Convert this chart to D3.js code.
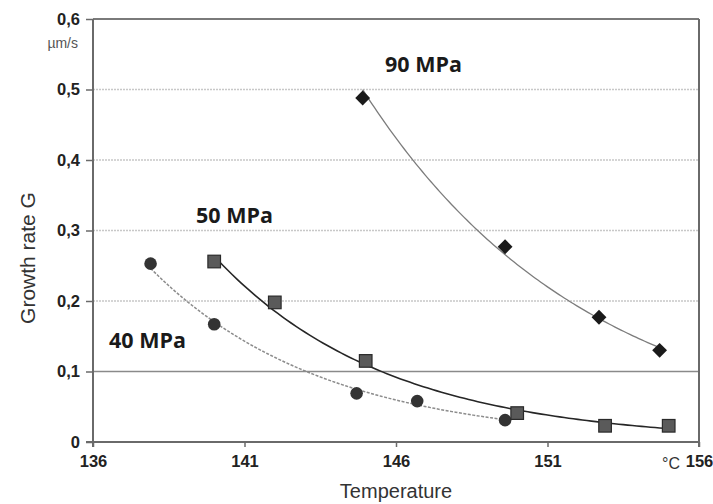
<!DOCTYPE html>
<html>
<head>
<meta charset="utf-8">
<script src="https://cdn.jsdelivr.net/npm/d3@7"></script>
<style>
  html, body { margin: 0; padding: 0; background: #fff; }
  svg { display: block; }
</style>
</head>
<body>
<svg id="chart" width="713" height="504"></svg>
<script>
// Growth rate G (µm/s) versus temperature (°C) for three pressures
const temp40 = [137.9, 140, 144.7, 146.7, 149.6];
const g40    = [0.253, 0.167, 0.069, 0.058, 0.031];

const temp50 = [140, 142, 145, 150, 152.9, 155];
const g50    = [0.256, 0.198, 0.115, 0.041, 0.023, 0.023];

const temp90 = [144.9, 149.6, 152.7, 154.7];
const g90    = [0.488, 0.277, 0.177, 0.130];

const xTicks = [136, 141, 146, 151, 156];
const yTicks = [0, 0.1, 0.2, 0.3, 0.4, 0.5, 0.6];

const svg = d3.select("#chart");
const plotL = 93, plotR = 699, plotT = 19, plotB = 442;

const x = d3.scaleLinear().domain([136, 156]).range([plotL, plotR]);
const y = d3.scaleLinear().domain([0, 0.6]).range([plotB, plotT]);
const comma = v => d3.format(".1f")(v).replace(".", ",");
const yLabel = v => v === 0 ? "0" : comma(v);
const sans = "'Liberation Sans', Arial, sans-serif";

// horizontal gridlines
svg.append("g").selectAll("line")
  .data(yTicks.filter(v => v > 0.1 && v < 0.6))
  .join("line")
  .attr("x1", plotL).attr("x2", plotR)
  .attr("y1", d => y(d)).attr("y2", d => y(d))
  .attr("stroke", "#c8c8c8").attr("stroke-width", 1.5)
  .attr("stroke-dasharray", "2,1");

svg.append("line")
  .attr("x1", plotL).attr("x2", plotR)
  .attr("y1", y(0.1)).attr("y2", y(0.1))
  .attr("stroke", "#8a8a8a").attr("stroke-width", 1.5);

svg.append("line")
  .attr("x1", plotL).attr("x2", plotR)
  .attr("y1", y(0.6)).attr("y2", y(0.6))
  .attr("stroke", "#7a7a7a").attr("stroke-width", 2);

// right frame
svg.append("line")
  .attr("x1", plotR).attr("x2", plotR)
  .attr("y1", plotT).attr("y2", plotB + 5)
  .attr("stroke", "#6a6a6a").attr("stroke-width", 2);

// axes
const yAxis = svg.append("g")
  .attr("transform", `translate(${plotL},0)`)
  .call(d3.axisLeft(y).tickValues(yTicks).tickFormat(yLabel).tickSize(7).tickPadding(6));
const xAxis = svg.append("g")
  .attr("transform", `translate(0,${plotB})`)
  .call(d3.axisBottom(x).tickValues(xTicks).tickFormat(d3.format("d")).tickSize(5).tickPadding(8));

[yAxis, xAxis].forEach(a => {
  a.select(".domain").attr("stroke", "#6a6a6a").attr("stroke-width", 2);
  a.selectAll(".tick line").attr("stroke", "#6a6a6a").attr("stroke-width", 1.5);
  a.selectAll(".tick text")
    .attr("fill", "#222")
    .attr("font-family", sans)
    .attr("font-weight", "bold")
    .attr("font-size", 16.5);
});
yAxis.select(".domain").attr("d", `M0,${plotT}V${plotB + 5}`);
xAxis.select(".domain").attr("d", `M${plotL - 7},0H${plotR}`);

// exponential trend fitted to each series: ln G = ln a + b T
function expFit(ts, gs) {
  const ly = gs.map(Math.log);
  const mx = d3.mean(ts), my = d3.mean(ly);
  const b = d3.sum(ts, (t, i) => (t - mx) * (ly[i] - my)) / d3.sum(ts, t => (t - mx) ** 2);
  const a = Math.exp(my - b * mx);
  return t => a * Math.exp(b * t);
}

const line = d3.line().x(d => x(d[0])).y(d => y(d[1]));

function trend(ts, gs, style) {
  const f = expFit(ts, gs);
  const t0 = d3.min(ts), t1 = d3.max(ts);
  const pts = d3.range(0, 101).map(i => {
    const t = t0 + (t1 - t0) * i / 100;
    return [t, f(t)];
  });
  svg.append("path")
    .datum(pts)
    .attr("d", line)
    .attr("fill", "none")
    .attr("stroke", style.color)
    .attr("stroke-width", style.width)
    .attr("stroke-dasharray", style.dash || null);
}

trend(temp40, g40, { color: "#8c8c8c", width: 1.5, dash: "3,1.5" });
trend(temp50, g50, { color: "#262626", width: 1.6 });
trend(temp90, g90, { color: "#7c7c7c", width: 1.3 });

// markers
svg.append("g").selectAll("circle")
  .data(d3.zip(temp40, g40))
  .join("circle")
  .attr("cx", d => x(d[0])).attr("cy", d => y(d[1]))
  .attr("r", 6.3).attr("fill", "#333");

svg.append("g").selectAll("rect")
  .data(d3.zip(temp50, g50))
  .join("rect")
  .attr("x", d => x(d[0]) - 6.3).attr("y", d => y(d[1]) - 6.3)
  .attr("width", 12.6).attr("height", 12.6)
  .attr("fill", "#5a5a5a").attr("stroke", "#2a2a2a").attr("stroke-width", 1.2);

svg.append("g").selectAll("path")
  .data(d3.zip(temp90, g90))
  .join("path")
  .attr("d", d3.symbol(d3.symbolSquare, 110))
  .attr("transform", d => `translate(${x(d[0])},${y(d[1])}) rotate(45)`)
  .attr("fill", "#1a1a1a");

// series labels
const seriesFont = "'Open Sans', Lato, sans-serif";
[["90 MPa", 385, 72], ["50 MPa", 196, 223], ["40 MPa", 109, 348]].forEach(([t, lx, ly]) => {
  svg.append("text").text(t)
    .attr("x", lx).attr("y", ly)
    .attr("font-family", seriesFont).attr("font-weight", "bold")
    .attr("font-size", 21.5).attr("fill", "#1a1a1a");
});

// unit and axis titles
svg.append("text").text("µm/s")
  .attr("x", 78).attr("y", 48).attr("text-anchor", "end")
  .attr("font-family", sans)
  .attr("font-size", 14).attr("fill", "#555");

svg.append("text").text("°C")
  .attr("x", 662).attr("y", 469)
  .attr("font-family", sans)
  .attr("font-size", 16).attr("fill", "#333");

svg.append("text").text("Temperature")
  .attr("x", 396).attr("y", 498).attr("text-anchor", "middle")
  .attr("font-family", sans)
  .attr("font-size", 20).attr("fill", "#333");

svg.append("text").text("Growth rate G")
  .attr("transform", "translate(35,258) rotate(-90)")
  .attr("text-anchor", "middle")
  .attr("font-family", sans)
  .attr("font-size", 21).attr("fill", "#333");
</script>
</body>
</html>
